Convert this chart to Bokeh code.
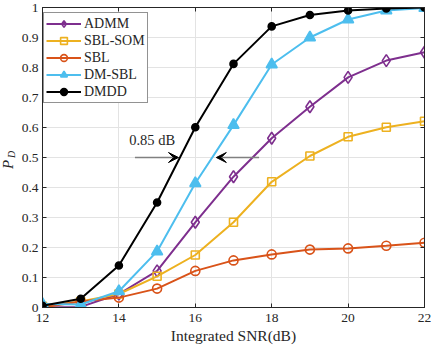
import math
from bokeh.plotting import figure
from bokeh.models import (Legend, LegendItem, LinearAxis, Arrow, VeeHead, Label,
                          FixedTicker, CustomJSTickFormatter, Range1d)
from bokeh.embed import file_html
from bokeh.resources import INLINE

# ---------------- data ----------------
snr = [12, 13, 14, 15, 16, 17, 18, 19, 20, 21, 22]
admm = [0.0, 0.002, 0.045, 0.122, 0.284, 0.436, 0.564, 0.669, 0.767, 0.823, 0.851]
sbl_som = [0.004, 0.02, 0.045, 0.104, 0.175, 0.284, 0.419, 0.505, 0.569, 0.601, 0.621]
sbl = [0.0, 0.02, 0.033, 0.063, 0.122, 0.157, 0.177, 0.193, 0.197, 0.206, 0.216]
dm_sbl = [0.012, 0.01, 0.054, 0.187, 0.414, 0.608, 0.81, 0.9, 0.96, 0.99, 0.998]
dmdd = [0.006, 0.029, 0.14, 0.35, 0.601, 0.812, 0.937, 0.975, 0.99, 0.997, 1.0]

series_names = ["ADMM", "SBL-SOM", "SBL", "DM-SBL", "DMDD"]
x_ticks = [12, 14, 16, 18, 20, 22]
y_ticks = [0, 0.1, 0.2, 0.3, 0.4, 0.5, 0.6, 0.7, 0.8, 0.9, 1.0]
y_tick_labels = ["0", "0.1", "0.2", "0.3", "0.4", "0.5", "0.6", "0.7", "0.8", "0.9", "1"]

# annotation (gap between DMDD and DM-SBL at P_D = 0.5)
gap_text = "0.85 dB"
gap_y = 0.5
left_arrow_x = [14.42, 15.56]
right_arrow_x = [17.67, 16.55]
gap_text_pos = (14.87, 0.557)

FONT = "Liberation Serif"
AX = "#262626"

p = figure(width=432, height=349, output_backend="svg", toolbar_location=None,
           x_range=Range1d(12, 22), y_range=Range1d(0, 1),
           min_border_left=42, min_border_right=8, min_border_top=6, min_border_bottom=42)
p.background_fill_color = "white"
p.border_fill_color = "white"
p.outline_line_color = AX
p.outline_line_width = 1

# axes
for ax in (p.xaxis[0], p.yaxis[0]):
    ax.axis_line_color = AX
    ax.major_tick_line_color = AX
    ax.major_tick_in = 4
    ax.major_tick_out = 0
    ax.minor_tick_line_color = None
    ax.major_label_text_font = FONT
    ax.major_label_text_font_size = "13.5px"
    ax.major_label_text_color = AX
    ax.axis_label_text_font = FONT
    ax.axis_label_text_font_style = "normal"
    ax.axis_label_text_color = AX

p.xaxis.ticker = FixedTicker(ticks=x_ticks)
p.yaxis.ticker = FixedTicker(ticks=y_ticks)
p.yaxis.major_label_overrides = {t: l for t, l in zip(y_ticks, y_tick_labels)}
p.xaxis.major_label_standoff = 6
p.yaxis.major_label_standoff = 4
p.xaxis.axis_label = "Integrated SNR(dB)"
p.xaxis.axis_label_text_font_size = "15.5px"
p.xaxis.axis_label_standoff = 2

blank = CustomJSTickFormatter(code="return ''")
top_ax = LinearAxis(ticker=FixedTicker(ticks=x_ticks), formatter=blank,
                    major_tick_in=4, major_tick_out=0, minor_tick_line_color=None,
                    axis_line_color=AX, major_tick_line_color=AX,
                    major_label_standoff=0, major_label_text_font_size="1px")
right_ax = LinearAxis(ticker=FixedTicker(ticks=y_ticks), formatter=blank,
                      major_tick_in=4, major_tick_out=0, minor_tick_line_color=None,
                      axis_line_color=AX, major_tick_line_color=AX,
                      major_label_standoff=0, major_label_text_font_size="1px")
p.add_layout(top_ax, "above")
p.add_layout(right_ax, "right")

p.xgrid.ticker = FixedTicker(ticks=x_ticks)
p.ygrid.ticker = FixedTicker(ticks=y_ticks)
p.xgrid.grid_line_color = "#e3e3e3"
p.ygrid.grid_line_color = "#e3e3e3"

# series
styles = [
    (admm, "#7E2F8E", "diamond", 12, None),
    (sbl_som, "#EDB120", "square", 8, None),
    (sbl, "#D95319", "circle", 9, None),
    (dm_sbl, "#4DBEEE", "triangle", 11, "#4DBEEE"),
    (dmdd, "#000000", "circle", 7, "#000000"),
]
items = []
for name, (vals, col, mk, sz, fill) in zip(series_names, styles):
    l = p.line(snr, vals, line_color=col, line_width=2)
    s = p.scatter(snr, vals, marker=mk, size=sz, line_color=col, line_width=1.6,
                  fill_color=fill)
    items.append(LegendItem(label=name, renderers=[l, s]))

legend = Legend(items=items, location=(1, 204), margin=0, padding=2, spacing=0,
                glyph_width=35, glyph_height=17, label_height=17, label_standoff=3,
                label_text_font=FONT, label_text_font_size="14px", label_text_color=AX,
                border_line_color=AX, border_line_width=1,
                background_fill_color="white", background_fill_alpha=1)
p.add_layout(legend, "center")

# annotation arrows
for xs in (left_arrow_x, right_arrow_x):
    p.add_layout(Arrow(x_start=xs[0], y_start=gap_y, x_end=xs[1], y_end=gap_y,
                       line_color="#808080", line_width=1.5,
                       end=VeeHead(size=10, fill_color="black", line_color="black",
                                   line_width=1)))
p.add_layout(Label(x=gap_text_pos[0], y=gap_text_pos[1], text=gap_text,
                   text_align="center", text_baseline="middle", text_font=FONT,
                   text_font_size="14.5px", text_color=AX))

# y axis label P_D (side panels so they are not clipped by the frame)
p.add_layout(Label(x=7, y=164, x_units="canvas", y_units="canvas", text="P",
                   angle=math.pi / 2, text_align="center", text_baseline="middle",
                   text_font=FONT, text_font_style="italic", text_font_size="15px",
                   text_color=AX), "left")
p.add_layout(Label(x=11, y=154, x_units="canvas", y_units="canvas", text="D",
                   angle=math.pi / 2, text_align="center", text_baseline="middle",
                   text_font=FONT, text_font_style="italic", text_font_size="10px",
                   text_color=AX), "above")

open("out.html", "w").write(file_html(p, INLINE))
